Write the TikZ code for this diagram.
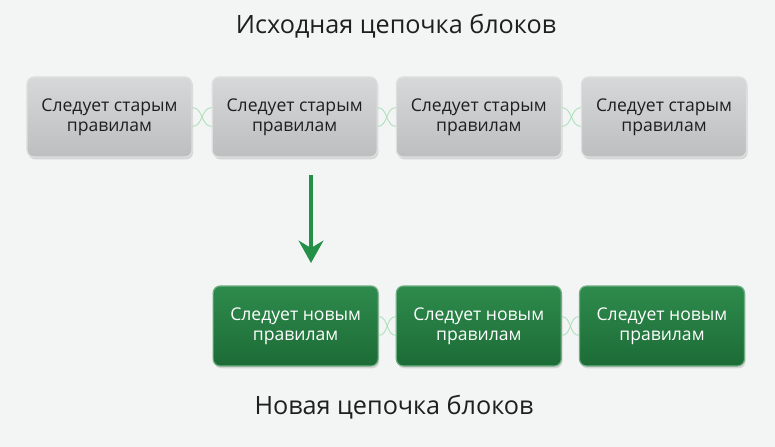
\documentclass[tikz,border=0pt]{standalone}
\usepackage{fontspec}
\setmainfont{Open Sans}
\usetikzlibrary{arrows.meta,positioning,shadows}

\definecolor{bgcol}{HTML}{F3F4F4}
\definecolor{oldtop}{HTML}{D6D8D9}
\definecolor{oldbot}{HTML}{BCBEC0}
\definecolor{newtop}{HTML}{2E8B4C}
\definecolor{newbot}{HTML}{1C6B36}
\definecolor{linkcol}{HTML}{9FDDB0}
\definecolor{arrcol}{HTML}{249047}

\begin{document}
\begin{tikzpicture}[
  x=0.03cm, y=-0.03cm,
  block/.style={rectangle, rounded corners=6pt, align=center, line width=1pt,
    minimum width=4.95cm, minimum height=2.4cm,
    font=\fontsize{15}{17.5}\selectfont,
    drop shadow={shadow xshift=1pt, shadow yshift=-2pt, opacity=0.25}},
  oldblock/.style={block, draw=white!75!gray, top color=oldtop, bottom color=oldbot, text=black!88},
  newblock/.style={block, draw=newtop!70!white, top color=newtop, bottom color=newbot, text=white},
  link/.style={draw=linkcol, line width=0.8pt, opacity=0.8},
  caption/.style={font=\fontsize{21.5}{25}\selectfont, text=black!88},
  node distance=0.57cm and 0.57cm,
  >=Stealth
]
% background
\fill[bgcol] (0,0) rectangle (775,447);
\useasboundingbox (0,0) rectangle (775,447);

% old chain
\node[caption] (oldtitle) at (396,26) {Исходная цепочка блоков};
\node[oldblock] (old1) at (109.5,117) {Следует старым\\правилам};
\node[oldblock, right=of old1] (old2) {Следует старым\\правилам};
\node[oldblock, right=0.54cm of old2] (old3) {Следует старым\\правилам};
\node[oldblock, right=of old3] (old4) {Следует старым\\правилам};

% new chain
\node[newblock] (new3) at (662,326) {Следует новым\\правилам};
\node[newblock, left=0.51cm of new3] (new2) {Следует новым\\правилам};
\node[newblock, left=0.51cm of new2] (new1) {Следует новым\\правилам};
\node[caption] (newtitle) at (394,407) {Новая цепочка блоков};

% links between blocks
\draw[link] ([yshift=8pt]old1.east) to[out=0,in=180] ([yshift=-8pt]old2.west);
\draw[link] ([yshift=-8pt]old1.east) to[out=0,in=180] ([yshift=8pt]old2.west);
\draw[link] ([yshift=8pt]old2.east) to[out=0,in=180] ([yshift=-8pt]old3.west);
\draw[link] ([yshift=-8pt]old2.east) to[out=0,in=180] ([yshift=8pt]old3.west);
\draw[link] ([yshift=8pt]old3.east) to[out=0,in=180] ([yshift=-8pt]old4.west);
\draw[link] ([yshift=-8pt]old3.east) to[out=0,in=180] ([yshift=8pt]old4.west);
\draw[link] ([yshift=8pt]new1.east) to[out=0,in=180] ([yshift=-8pt]new2.west);
\draw[link] ([yshift=-8pt]new1.east) to[out=0,in=180] ([yshift=8pt]new2.west);
\draw[link] ([yshift=8pt]new2.east) to[out=0,in=180] ([yshift=-8pt]new3.west);
\draw[link] ([yshift=-8pt]new2.east) to[out=0,in=180] ([yshift=8pt]new3.west);

% transition arrow
\coordinate (arrtop) at (311,175);
\coordinate (arrbot) at (311,263);
\draw[->, arrcol, line width=3.2pt, >={Stealth[length=19pt,width=21pt]}] (arrtop) -- (arrbot);
\end{tikzpicture}
\end{document}
